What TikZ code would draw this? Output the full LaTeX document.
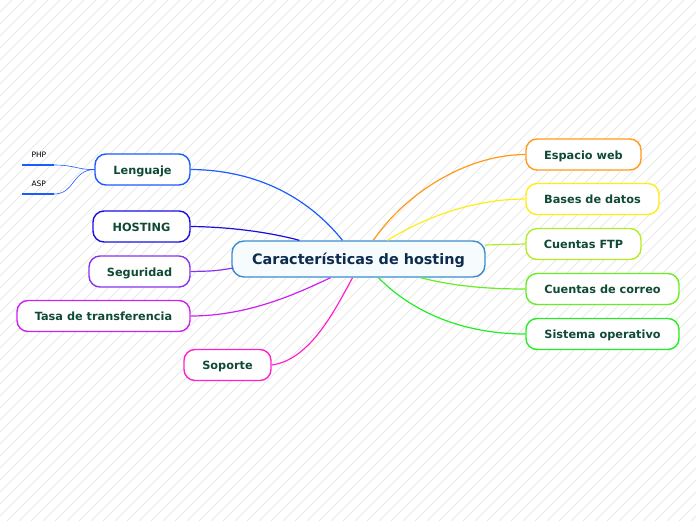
\documentclass[tikz,border=0pt]{standalone}
\usepackage{fontspec}
\setmainfont{DejaVu Sans}
\usetikzlibrary{
		calc,
		positioning
	}
\definecolor{stripe}{HTML}{E0E0E0}
\definecolor{leaftext}{HTML}{0F4A35}
\definecolor{coretext}{HTML}{0D2B4E}
\definecolor{coreline}{HTML}{3C8DCF}
\definecolor{corefill}{HTML}{F6FBFE}
\definecolor{clang}{HTML}{1A5CFF}
\definecolor{chost}{HTML}{1A0FDF}
\definecolor{cseg}{HTML}{8833EE}
\definecolor{ctasa}{HTML}{CC22EE}
\definecolor{csop}{HTML}{FF22CC}
\definecolor{cesp}{HTML}{FF9A1A}
\definecolor{cbase}{HTML}{FFEE11}
\definecolor{cftp}{HTML}{B0EE22}
\definecolor{ccor}{HTML}{66EE22}
\definecolor{csis}{HTML}{22EE22}
\tikzset{
		topic/.style={draw, line width=1.4pt, rounded corners=11pt, fill=white,
			minimum height=31pt, inner sep=0pt, text=leaftext,
			text height=11pt, text depth=1.2pt,
			font=\bfseries\fontsize{11.3}{13}\selectfont},
		core/.style={draw=coreline, line width=1.4pt, rounded corners=12pt,
			fill=corefill, minimum height=36pt, inner sep=0pt, text=coretext,
			text height=13pt, text depth=1.6pt,
			font=\bfseries\fontsize{14.4}{17}\selectfont},
		branch/.style={line width=1.2pt},
		twig/.style={line width=0.6pt, clang}
	}

\begin{document}
\begin{tikzpicture}[x=1pt, y=-1pt]
\useasboundingbox (0,0) rectangle (696,520);
% background stripes
\begin{scope}
\clip (0,0) rectangle (696,520);
\foreach \s in {0,12,...,1224}
	\draw[stripe, line width=0.45pt] (\s-530,530) -- (\s+10,-10);
\end{scope}

\node[core, minimum width=253pt] (core) at (358.5,259) {Características de hosting};

\node[topic, draw=clang, minimum width=95pt] (leng) at (142.5,169.5) {Lenguaje};
\node[topic, draw=chost, minimum width=97pt] (host) at (141.5,226.5) {HOSTING};
\node[topic, draw=cseg, minimum width=101pt] (seg) at (139.5,271.5) {Seguridad};
\node[topic, draw=ctasa, minimum width=173pt] (tasa) at (103.5,316) {Tasa de transferencia};
\node[topic, draw=csop, minimum width=87pt] (sop) at (227.5,365) {Soporte};

\node[topic, draw=cesp, minimum width=115pt] (esp) at (583.5,154.5) {Espacio web};
\node[topic, draw=cbase, minimum width=133pt] (base) at (592.5,199) {Bases de datos};
\node[topic, draw=cftp, minimum width=115pt] (ftp) at (583.5,244) {Cuentas FTP};
\node[topic, draw=ccor, minimum width=153pt] (cor) at (602.5,289) {Cuentas de correo};
\node[topic, draw=csis, minimum width=153pt] (sis) at (602.5,334) {Sistema operativo};

% left branches
\draw[branch, clang] (leng.east) .. controls (260,170) and (310,200) .. ($(core.north)+(-16,0)$);
\draw[branch, chost] (host.east) .. controls (240,227) and (280,235) .. ($(core.north west)+(68,0)$);
\draw[branch, cseg] (seg.east) .. controls (215,271) .. ($(core.west)+(2,9)$);
\draw[branch, ctasa] (tasa.east) .. controls (250,316) and (300,292) .. ($(core.south)+(-28,0)$);
\draw[branch, csop] (sop.east) .. controls (310,360) and (335,310) .. ($(core.south)+(-6,0)$);

% right branches
\draw[branch, cesp] (esp.west) .. controls (460,155) and (400,200) .. ($(core.north)+(15,0)$);
\draw[branch, cbase] (base.west) .. controls (470,199) and (420,220) .. ($(core.north)+(29,0)$);
\draw[branch, cftp] (ftp.west) .. controls (505,244) .. ($(core.east)+(-1,-14)$);
\draw[branch, ccor] (cor.west) .. controls (480,289) and (450,285) .. ($(core.south)+(62,0)$);
\draw[branch, csis] (sis.west) .. controls (460,334) and (410,310) .. ($(core.south)+(20,0)$);

% PHP / ASP
\coordinate (phpA) at (22,165);
\coordinate (phpB) at (54,165);
\coordinate (aspA) at (22,194);
\coordinate (aspB) at (54,194);
\node[font=\fontsize{7.5}{9}\selectfont, anchor=south west] (php) at (28,161) {PHP};
\node[font=\fontsize{7.5}{9}\selectfont, anchor=south west] (asp) at (28,190) {ASP};
\draw[clang, line width=2.2pt] (phpA) -- (phpB);
\draw[clang, line width=2.2pt] (aspA) -- (aspB);
\draw[twig] (phpB) .. controls (75,165) and (78,170) .. (leng.west);
\draw[twig] (aspB) .. controls (75,194) and (72,170) .. (leng.west);
\end{tikzpicture}
\end{document}
